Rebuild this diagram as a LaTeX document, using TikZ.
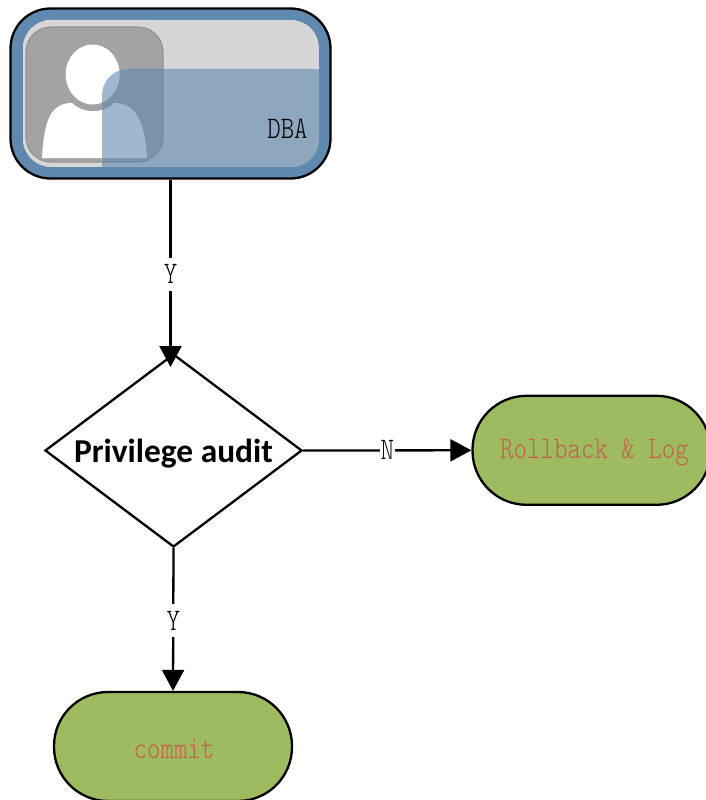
\documentclass[tikz,border=0pt]{standalone}
\usepackage{fontspec}
\usetikzlibrary{arrows.meta,shapes.geometric}
\newfontfamily\boldlabel{Carlito}
\newfontfamily\thinmono{Latin Modern Mono Light}
\newcommand{\tallmono}[1]{\scalebox{1}[1.22]{\fontsize{25.7}{27}\selectfont\thinmono #1}}
\definecolor{steel}{HTML}{6089AF}
\definecolor{palegrey}{HTML}{D6D6D6}
\definecolor{midgrey}{HTML}{A3A3A3}
\definecolor{leaf}{HTML}{9EBB60}
\definecolor{brick}{HTML}{C0604D}
\tikzset{
  flow/.style={draw=black,line width=2.3pt,-{Triangle[length=21pt,width=22pt]}},
  tag/.style={fill=white,inner sep=0pt,text=black,minimum height=33pt,minimum width=15pt},
  pill/.style={draw=black,line width=2.3pt,fill=leaf,rounded corners=54pt,minimum width=238pt,minimum height=109pt,inner sep=0pt},
}
\begin{document}
\begin{tikzpicture}[x=1pt,y=-1pt]
\useasboundingbox (0,0) rectangle (706,800);
% role card
\node[draw=black,line width=2.3pt,fill=steel,rounded corners=40pt,minimum width=320pt,minimum height=170pt,inner sep=0pt] (dba) at (170.5,93.5) {};
\begin{scope}
\clip[rounded corners=28pt] (23,20) rectangle (319,167);
\fill[palegrey] (23,20) rectangle (319,167);
\draw[white!85!black,line width=3pt,rounded corners=28pt] (23,20) -- (150,20) (23,167) -- (23,20);
\fill[midgrey,draw=black!42,line width=1.2pt,rounded corners=25pt] (26,27) rectangle (163,162);
\fill[white] (92.7,74.5) ellipse (27pt and 30pt);
\fill[white] (42,158) .. controls (44,122) and (50,103) .. (72,103) .. controls (84,114) and (102,114) .. (114,103) .. controls (136,103) and (145,122) .. (147,158) -- cycle;
\fill[steel,opacity=.6] (102,167) {[rounded corners=26pt] -- (102,69) -- (340,69)} -- (340,190) -- (102,190) -- cycle;
\end{scope}
\node[inner sep=0pt] (dbalabel) at (287.5,129) {\tallmono{DBA}};
% decision
\node[draw=black,line width=2.3pt,fill=white,diamond,aspect=1.33,inner sep=0pt,minimum width=257pt,minimum height=193pt] (audit) at (173.5,450.5) {};
\node[inner sep=0pt,font=\boldlabel\bfseries\fontsize{33.4}{35}\selectfont] (auditlabel) at (173.5,454) {Privilege audit};
% terminals
\node[pill] (roll) at (591.5,450.3) {};
\node[inner sep=0pt,text=brick] (rolllabel) at (594.5,452) {\tallmono{Rollback \& Log}};
\node[pill] (commit) at (173,746.5) {};
\node[inner sep=0pt,text=brick] (commitlabel) at (174,749) {\tallmono{commit}};
% connectors
\coordinate (auditin) at (170.5,367);
\draw[flow] (dba.south) -- node[tag,pos=.5,yshift=-1pt] (y1) {\tallmono{Y}} (auditin);
\draw[flow] (audit.east) -- node[tag,pos=.5] (n1) {\tallmono{N}} (roll.west);
\draw[flow] (audit.south) -- node[tag,pos=.51] (y2) {\tallmono{Y}} (commit.north);
\end{tikzpicture}
\end{document}
